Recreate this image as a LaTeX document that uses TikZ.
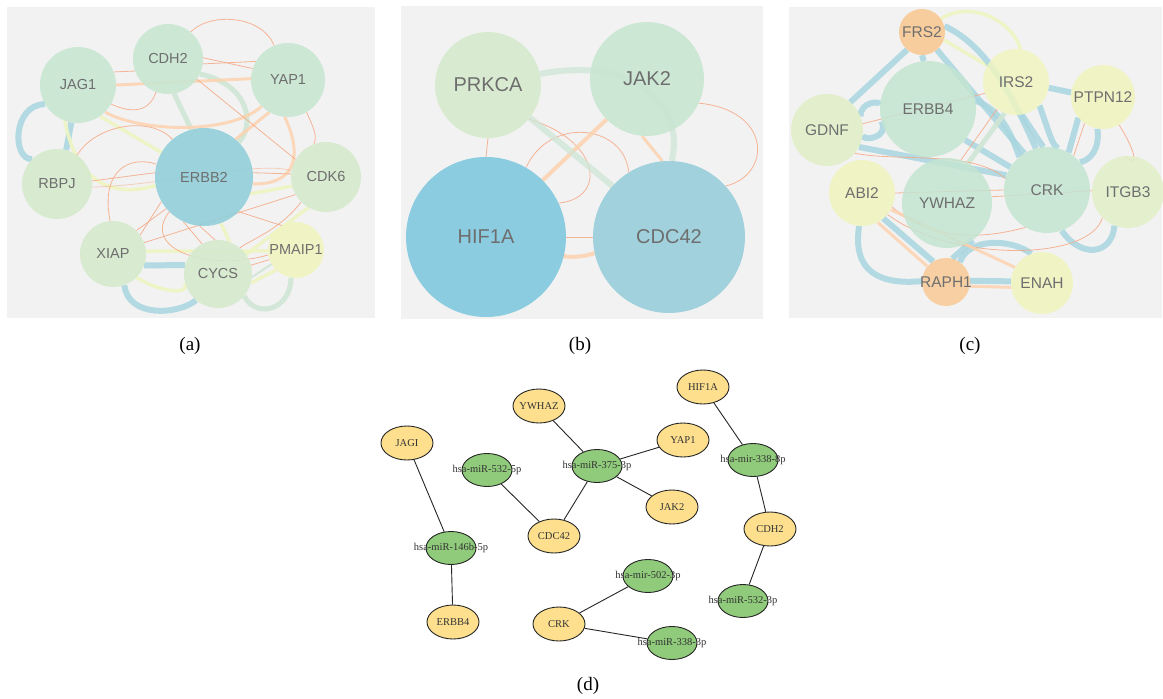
\documentclass[tikz,border=0pt]{standalone}
\usepackage{fontspec}
\setsansfont{Liberation Sans}
\newfontfamily\dserif{Liberation Serif}
\usetikzlibrary{shapes.geometric}
\pgfdeclarelayer{back}
\pgfdeclarelayer{edges}
\pgfsetlayers{back,edges,main}
\definecolor{pbgc}{HTML}{F2F2F2}
\definecolor{ga}{HTML}{C9E6D2}
\definecolor{gb}{HTML}{D6EACD}
\definecolor{gc}{HTML}{C4E5D1}
\definecolor{gy}{HTML}{E2EFC8}
\definecolor{yl}{HTML}{F0F5C0}
\definecolor{orn}{HTML}{F9C994}
\definecolor{erbb}{HTML}{93CFDA}
\definecolor{hif}{HTML}{80C8DF}
\definecolor{cdc}{HTML}{93CCD9}
\definecolor{lab}{HTML}{6E6E6E}
\definecolor{eor}{HTML}{F5A985}
\definecolor{eorl}{HTML}{FDD2AE}
\definecolor{eyel}{HTML}{EEF5C2}
\definecolor{eblu}{HTML}{A9D6E0}
\definecolor{egrn}{HTML}{CFE6D5}
\definecolor{dyel}{HTML}{FDDF8E}
\definecolor{dgrn}{HTML}{8FCB7A}
\newcommand{\zbox}[1]{\makebox[0pt]{#1}}
\tikzset{
  pbg/.style={fill=pbgc,draw=none},
  cnode/.style={circle,inner sep=0pt,fill opacity=0.9,text opacity=1,text=lab},
  fa/.style={font=\sffamily\fontsize{14.5}{14.5}\selectfont},
  fb/.style={font=\sffamily\fontsize{20}{20}\selectfont},
  fc/.style={font=\sffamily\fontsize{15.5}{15.5}\selectfont},
  eo/.style={draw=eor,line width=0.8pt,opacity=0.85},
  eol/.style={draw=eorl,line width=3pt,opacity=0.85},
  eye/.style={draw=eyel,line width=3.5pt,opacity=0.9},
  ebl/.style={draw=eblu,line width=6pt,opacity=0.85},
  egr/.style={draw=egrn,line width=5pt,opacity=0.9},
  dnode/.style={ellipse,draw=black!85,line width=0.9pt,minimum width=52pt,minimum height=34pt,inner sep=0pt,font=\dserif\fontsize{10.5}{10.5}\selectfont,text=black!80},
  dy/.style={dnode,fill=dyel},
  dg/.style={dnode,fill=dgrn,minimum width=50pt,minimum height=33pt},
  dedge/.style={draw=black!85,line width=0.9pt},
  plab/.style={font=\dserif\fontsize{19}{19}\selectfont}
}
\begin{document}
\begin{tikzpicture}[x=1pt,y=-1pt]
\useasboundingbox (0,0) rectangle (1163,699);
\begin{pgfonlayer}{back}
\fill[white] (0,0) rectangle (1163,699);
\fill[pbg] (7,7) rectangle (375,318);
\fill[pbg] (401,6) rectangle (763,319);
\fill[pbg] (789,7) rectangle (1162,318);
\end{pgfonlayer}
% ---------- panel (a) nodes
\node[cnode,fa,fill=ga,minimum size=76pt] (aJAG1) at (78,85) {JAG1};
\node[cnode,fa,fill=ga,minimum size=70pt] (aCDH2) at (168,59) {CDH2};
\node[cnode,fa,fill=ga,minimum size=74pt] (aYAP1) at (288,80) {YAP1};
\node[cnode,fa,fill=gb,minimum size=70pt] (aRBPJ) at (57,184) {RBPJ};
\node[cnode,fa,fill=erbb,minimum size=98pt] (aERBB2) at (204,177) {ERBB2};
\node[cnode,fa,fill=gb,minimum size=70pt] (aCDK6) at (326,177) {CDK6};
\node[cnode,fa,fill=gb,minimum size=66pt] (aXIAP) at (113,254) {XIAP};
\node[cnode,fa,fill=gb,minimum size=68pt] (aCYCS) at (218,274) {CYCS};
\node[cnode,fa,fill=yl,minimum size=56pt] (aPMAIP1) at (296,250) {\zbox{PMAIP1}};
% ---------- panel (b) nodes
\node[cnode,fb,fill=gb,minimum size=106pt] (bPRKCA) at (488,85) {PRKCA};
\node[cnode,fb,fill=ga,minimum size=114pt] (bJAK2) at (647,79) {JAK2};
\node[cnode,fb,fill=hif,minimum size=160pt] (bHIF1A) at (486,237) {HIF1A};
\node[cnode,fb,fill=cdc,minimum size=152pt,fill opacity=0.85] (bCDC42) at (669,237) {CDC42};
% ---------- panel (c) nodes
\node[cnode,fc,fill=orn,minimum size=46pt] (cFRS2) at (922,32) {\zbox{FRS2}};
\node[cnode,fc,fill=yl,minimum size=66pt,fill opacity=0.85] (cIRS2) at (1016,82) {IRS2};
\node[cnode,fc,fill=yl,minimum size=64pt] (cPTPN12) at (1103,97) {\zbox{PTPN12}};
\node[cnode,fc,fill=gc,minimum size=96pt,fill opacity=0.85] (cERBB4) at (928,109) {ERBB4};
\node[cnode,fc,fill=gy,minimum size=72pt] (cGDNF) at (827,130) {GDNF};
\node[cnode,fc,fill=yl,minimum size=66pt] (cABI2) at (862,193) {ABI2};
\node[cnode,fc,fill=gc,minimum size=90pt,fill opacity=0.85] (cYWHAZ) at (947,203) {YWHAZ};
\node[cnode,fc,fill=gc,minimum size=86pt,fill opacity=0.85] (cCRK) at (1047,190) {CRK};
\node[cnode,fc,fill=gy,minimum size=72pt,fill opacity=0.85] (cITGB3) at (1128,192) {ITGB3};
\node[cnode,fc,fill=orn,minimum size=48pt,fill opacity=0.85] (cRAPH1) at (946,282) {\zbox{RAPH1}};
\node[cnode,fc,fill=yl,minimum size=62pt] (cENAH) at (1042,283) {ENAH};
\begin{pgfonlayer}{edges}
% ================= EDGES (a)
\draw[ebl] (aJAG1.-100) -- (aRBPJ.75);
\draw[ebl] (aJAG1.-150) .. controls (12,105) and (12,160) .. (aRBPJ.135);
\draw[ebl] (aXIAP.-20) -- (aCYCS.165);
\draw[ebl] (aXIAP.-70) .. controls (128,318) and (178,315) .. (aCYCS.-130);
\draw[egr] (aCYCS.-40) .. controls (255,318) and (290,312) .. (aPMAIP1.-100);
\draw[egr] (aCDH2.-80) -- (aERBB2.105);
\draw[egr] (aCDH2.-25) .. controls (250,85) and (255,125) .. (aERBB2.45);
\draw[egr,line width=2pt] (aCYCS.-5) -- (aPMAIP1.-150);
\draw[eye] (aJAG1.-55) -- (aERBB2.150);
\draw[eye] (aJAG1.-110) .. controls (75,175) and (105,200) .. (aERBB2.-170);
\draw[eye] (aXIAP.5) -- (aPMAIP1.-178);
\draw[eye] (aXIAP.-45) .. controls (160,292) and (190,296) .. (aCYCS.-165);
\draw[eye] (aCYCS.35) -- (aCDK6.-120);
\draw[eye] (aCYCS.70) -- (aERBB2.-70);
\draw[eye] (aERBB2.-20) -- (aCDK6.-165);
\draw[eye] (aCYCS.-15) -- (aPMAIP1.-135);
\draw[eol] (aJAG1.-45) .. controls (140,132) and (230,135) .. (aYAP1.-135);
\draw[eol] (aJAG1.0) -- (aYAP1.178);
\draw[eol] (aYAP1.-120) -- (aERBB2.50);
\draw[eol] (aYAP1.-95) .. controls (305,160) and (292,185) .. (aERBB2.-8);
\draw[eo] (aJAG1.20) -- (aCDH2.200);
\draw[eo] (aCDH2.50) .. controls (210,12) and (262,15) .. (aYAP1.112);
\draw[eo] (aCDH2.2) -- (aYAP1.162);
\draw[eo] (aCDH2.-8) -- (aYAP1.150);
\draw[eo] (aCDH2.-35) -- (aCDK6.150);
\draw[eo] (aYAP1.-60) .. controls (312,125) and (318,135) .. (aCDK6.110);
\draw[eo] (aCDH2.-110) .. controls (150,110) and (135,115) .. (aJAG1.-30);
\draw[eo] (aRBPJ.5) -- (aERBB2.175);
\draw[eo] (aRBPJ.55) .. controls (95,125) and (150,115) .. (aERBB2.130);
\draw[eo] (aERBB2.5) -- (aCDK6.175);
\draw[eo] (aERBB2.-45) -- (aPMAIP1.120);
\draw[eo] (aCDK6.-150) -- (aXIAP.20);
\draw[eo] (aXIAP.45) -- (aERBB2.-140);
\draw[eo] (aXIAP.35) -- (aERBB2.-150);
\draw[eo] (aXIAP.95) .. controls (100,170) and (130,155) .. (aERBB2.165);
\draw[eo] (aCYCS.95) -- (aERBB2.-95);
\draw[eo] (aCYCS.118) -- (aERBB2.-115);
\draw[eo] (aERBB2.-135) .. controls (140,250) and (210,272) .. (aPMAIP1.-170);
\draw[eo] (aCYCS.15) -- (aPMAIP1.-160);
\draw[eo] (aCDK6.-135) .. controls (280,230) and (250,240) .. (aCYCS.50);
\draw[eo,opacity=0.5] (aRBPJ.-5) .. controls (170,185) and (260,160) .. (aCDK6.170);
% ================= EDGES (b)
\draw[eo] (bPRKCA.-90) -- (bHIF1A.90);
\draw[eo] (bPRKCA.-40) .. controls (600,140) and (608,198) .. (bHIF1A.25);
\draw[eo] (bHIF1A.60) .. controls (550,115) and (625,125) .. (bCDC42.122);
\draw[eo] (bJAK2.-25) .. controls (772,110) and (772,175) .. (bCDC42.42);
\draw[eo] (bHIF1A.0) -- (bCDC42.180);
\draw[eol,line width=4pt] (bHIF1A.45) -- (bJAK2.-135);
\draw[eol,line width=3pt] (bJAK2.-95) -- (bCDC42.95);
\draw[eol,line width=4pt] (bHIF1A.-12) .. controls (555,258) and (585,258) .. (bCDC42.-168);
\draw[egr,line width=6pt,opacity=0.75] (bPRKCA.-38) -- (bCDC42.138);
\draw[egr,line width=6pt,opacity=0.75] (bPRKCA.12) .. controls (640,55) and (685,110) .. (bCDC42.88);
% ================= EDGES (c)
\draw[eye] (cFRS2.35) .. controls (970,0) and (1012,20) .. (cIRS2.82);
\draw[eye] (cFRS2.-20) -- (cIRS2.150);
\draw[ebl] (cFRS2.-130) -- (cGDNF.50);
\draw[ebl] (cFRS2.-90) -- (cERBB4.95);
\draw[ebl] (cFRS2.-50) -- (cCRK.122);
\draw[ebl] (cFRS2.15) .. controls (985,45) and (1010,90) .. (cCRK.105);
\draw[ebl] (cGDNF.22) .. controls (860,102) and (880,100) .. (cERBB4.175);
\draw[ebl] (cGDNF.-8) .. controls (862,142) and (890,138) .. (cERBB4.-165);
\draw[ebl] (cGDNF.-28) -- (cCRK.160);
\draw[ebl] (cERBB4.-40) -- (cCRK.148);
\draw[ebl] (cERBB4.10) .. controls (1000,110) and (1010,130) .. (cCRK.130);
\draw[ebl] (cIRS2.-80) -- (cCRK.95);
\draw[ebl] (cIRS2.-45) .. controls (1050,135) and (1052,145) .. (cCRK.75);
\draw[ebl] (cIRS2.-10) -- (cPTPN12.172);
\draw[ebl] (cPTPN12.-100) .. controls (1100,150) and (1090,160) .. (cCRK.40);
\draw[ebl] (cPTPN12.-140) -- (cCRK.60);
\draw[ebl] (cCRK.-70) .. controls (1080,258) and (1112,256) .. (cITGB3.-112);
\draw[ebl] (cABI2.-95) .. controls (852,272) and (880,285) .. (cRAPH1.178);
\draw[ebl] (cABI2.-50) -- (cRAPH1.122);
\draw[ebl] (cRAPH1.55) .. controls (968,238) and (1010,238) .. (cENAH.110);
\draw[ebl] (cRAPH1.3) -- (cENAH.177);
\draw[ebl] (cYWHAZ.-55) -- (cRAPH1.75);
\draw[egr] (cIRS2.-110) -- (cYWHAZ.62);
\draw[eo] (cGDNF.10) -- (cIRS2.-160);
\draw[eo] (cGDNF.-40) .. controls (900,162) and (975,150) .. (cCRK.165);
\draw[eo] (cABI2.0) -- (cCRK.180);
\draw[eo] (cYWHAZ.8) -- (cITGB3.178);
\draw[eo] (cABI2.-40) .. controls (950,262) and (1090,262) .. (cITGB3.-135);
\draw[eo] (cYWHAZ.72) -- (cIRS2.-125);
\draw[eo] (cPTPN12.-60) .. controls (1135,150) and (1140,170) .. (cITGB3.95);
\draw[eo] (cPTPN12.-125) -- (cCRK.52);
\draw[eo] (cABI2.-25) .. controls (930,240) and (980,240) .. (cCRK.-120);
\draw[eol] (cABI2.-62) -- (cRAPH1.140);
\draw[eol] (cABI2.-30) -- (cENAH.150);
\draw[eol] (cRAPH1.-10) -- (cENAH.-172);
\end{pgfonlayer}
% ================= panel (d)
\node[dy] (dJAGI) at (407,443) {\zbox{JAGI}};
\node[dg] (d146) at (451,548) {\zbox{hsa-miR-146b-5p}};
\node[dy] (dERBB4) at (453,622) {\zbox{ERBB4}};
\node[dg] (d5325) at (487,470) {\zbox{hsa-miR-532-5p}};
\node[dy] (dYWHAZ) at (539,406) {\zbox{YWHAZ}};
\node[dg] (d375) at (597,466) {\zbox{hsa-miR-375-3p}};
\node[dy] (dYAP1) at (683,440) {\zbox{YAP1}};
\node[dy] (dJAK2) at (672,507) {\zbox{JAK2}};
\node[dy] (dCDC42) at (554,536) {\zbox{CDC42}};
\node[dy] (dHIF1A) at (703,387) {\zbox{HIF1A}};
\node[dg] (d338a) at (753,460) {\zbox{hsa-mir-338-8p}};
\node[dy] (dCDH2) at (770,529) {\zbox{CDH2}};
\node[dg] (d5323) at (743,601) {\zbox{hsa-miR-532-3p}};
\node[dy] (dCRK) at (559,624) {\zbox{CRK}};
\node[dg] (d502) at (648,576) {\zbox{hsa-mir-502-3p}};
\node[dg] (d338b) at (672,643) {\zbox{hsa-miR-338-3p}};
\draw[dedge] (dJAGI) -- (d146);
\draw[dedge] (d146) -- (dERBB4);
\draw[dedge] (d5325) -- (dCDC42);
\draw[dedge] (dYWHAZ) -- (d375);
\draw[dedge] (d375) -- (dYAP1);
\draw[dedge] (d375) -- (dJAK2);
\draw[dedge] (d375) -- (dCDC42);
\draw[dedge] (dHIF1A) -- (d338a);
\draw[dedge] (d338a) -- (dCDH2);
\draw[dedge] (dCDH2) -- (d5323);
\draw[dedge] (dCRK) -- (d502);
\draw[dedge] (dCRK) -- (d338b);
% panel letters
\node[plab] (la) at (190,346) {(a)};
\node[plab] (lb) at (580,346) {(b)};
\node[plab] (lc) at (970,346) {(c)};
\node[plab] (ld) at (588,686) {(d)};
\end{tikzpicture}
\end{document}
